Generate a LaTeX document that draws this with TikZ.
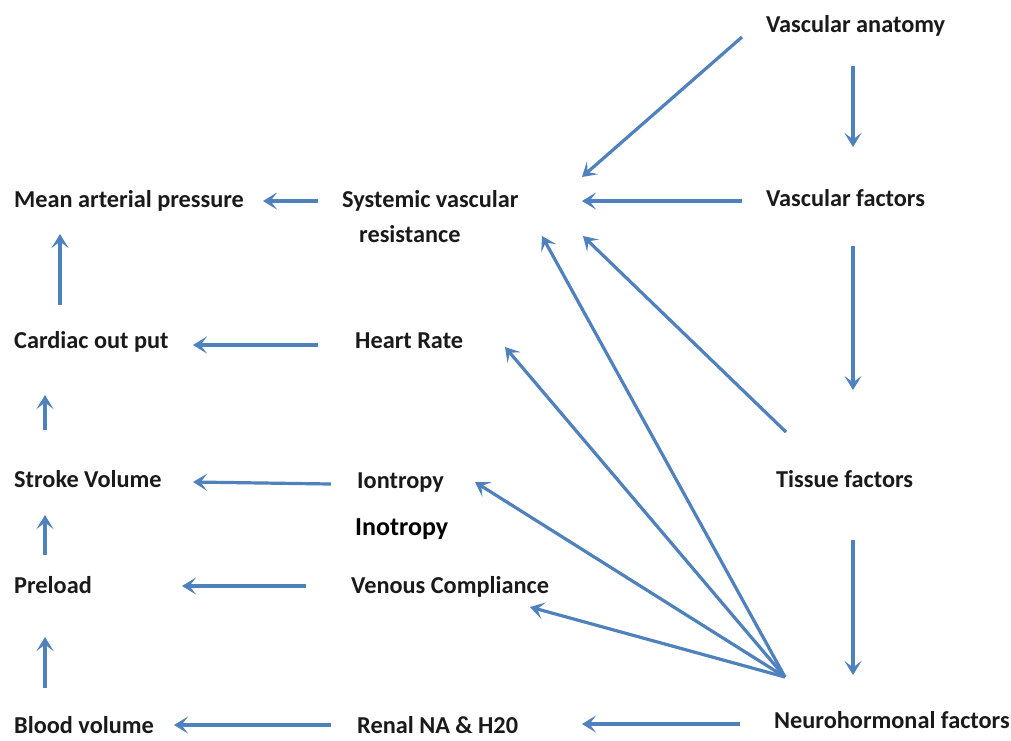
\documentclass[tikz,border=0pt]{standalone}
\usepackage{fontspec}
\setmainfont{Carlito}
\usetikzlibrary{arrows.meta,calc}
\definecolor{arrowblue}{HTML}{4F81BD}
\definecolor{labeltext}{HTML}{1A1A1A}
\tikzset{
  lbl/.style={anchor=base west, inner sep=0pt, font=\fontsize{24.3}{28}\selectfont\bfseries, text=labeltext},
  lblblack/.style={anchor=base west, inner sep=0pt, font=\fontsize{26}{30}\selectfont\bfseries, text=black},
  arr/.style={draw=arrowblue, line width=3.2pt, -{Stealth[length=14pt,width=17pt,inset=6.5pt]}}
}
\begin{document}
\begin{tikzpicture}[x=1pt,y=-1pt]
\useasboundingbox (0,0) rectangle (1011,740);
\fill[white] (0,0) rectangle (1011,740);
% nodes
\node[lbl] (map) at (14,207) {Mean arterial pressure};
\node[lbl] (svr) at (342,207) {Systemic vascular};
\node[lbl] (svrb) at (359,242) {resistance};
\node[lbl] (va) at (766,32) {Vascular anatomy};
\node[lbl] (vf) at (766,206) {Vascular factors};
\node[lbl] (co) at (14,348) {Cardiac out put};
\node[lbl] (hr) at (355,348) {Heart Rate};
\node[lbl] (sv) at (14,487) {Stroke Volume};
\node[lbl] (ion) at (357,488) {Iontropy};
\node[lbl] (tf) at (776,487) {Tissue factors};
\node[lblblack] (ino) at (355,535) {Inotropy};
\node[lbl] (pre) at (14,593) {Preload};
\node[lbl] (ven) at (351,593) {Venous Compliance};
\node[lbl] (bv) at (14,733) {Blood volume};
\node[lbl] (ren) at (357,733) {Renal NA \& H20};
\node[lbl] (nh) at (774,728) {Neurohormonal factors};
\coordinate (hub) at ($(nh.base west)+(11,-51)$);
% connectors
\draw[arr] ($(svr.base west)+(-24,-6)$) -- ($(map.base west)+(249,-6)$);
\draw[arr] ($(co.base west)+(46,-43)$) -- ($(map.base west)+(46,27)$);
\draw[arr] ($(hr.base west)+(-37,-3)$) -- ($(co.base west)+(179,-3)$);
\draw[arr] ($(sv.base west)+(31,-57)$) -- ($(co.base west)+(31,47)$);
\draw[arr] ($(ion.base west)+(-26,-4)$) -- ($(sv.base west)+(179,-5)$);
\draw[arr] ($(pre.base west)+(31,-38)$) -- ($(sv.base west)+(31,28)$);
\draw[arr] ($(ven.base west)+(-45,-7)$) -- ($(pre.base west)+(168,-7)$);
\draw[arr] ($(bv.base west)+(31,-45)$) -- ($(pre.base west)+(31,44)$);
\draw[arr] ($(ren.base west)+(-26,-8)$) -- ($(bv.base west)+(160,-8)$);
\draw[arr] ($(nh.base west)+(-34,-4)$) -- ($(ren.base west)+(225,-9)$);
\draw[arr] ($(va.base west)+(-24,5)$) -- ($(svr.base west)+(240,-30)$);
\draw[arr] ($(va.base west)+(87,34)$) -- ($(vf.base west)+(87,-59)$);
\draw[arr] ($(vf.base west)+(-24,-5)$) -- ($(svr.base west)+(240,-6)$);
\draw[arr] ($(vf.base west)+(87,40)$) -- ($(tf.base west)+(77,-97)$);
\draw[arr] ($(tf.base west)+(10,-55)$) -- ($(svr.base west)+(241,29)$);
\draw[arr] ($(tf.base west)+(77,53)$) -- ($(nh.base west)+(79,-53)$);
\draw[arr] (hub) -- ($(svr.base west)+(200,29)$);
\draw[arr] (hub) -- ($(hr.base west)+(150,-1)$);
\draw[arr] (hub) -- ($(ion.base west)+(118,-6)$);
\draw[arr] (hub) -- ($(ven.base west)+(179,14)$);
\end{tikzpicture}
\end{document}
